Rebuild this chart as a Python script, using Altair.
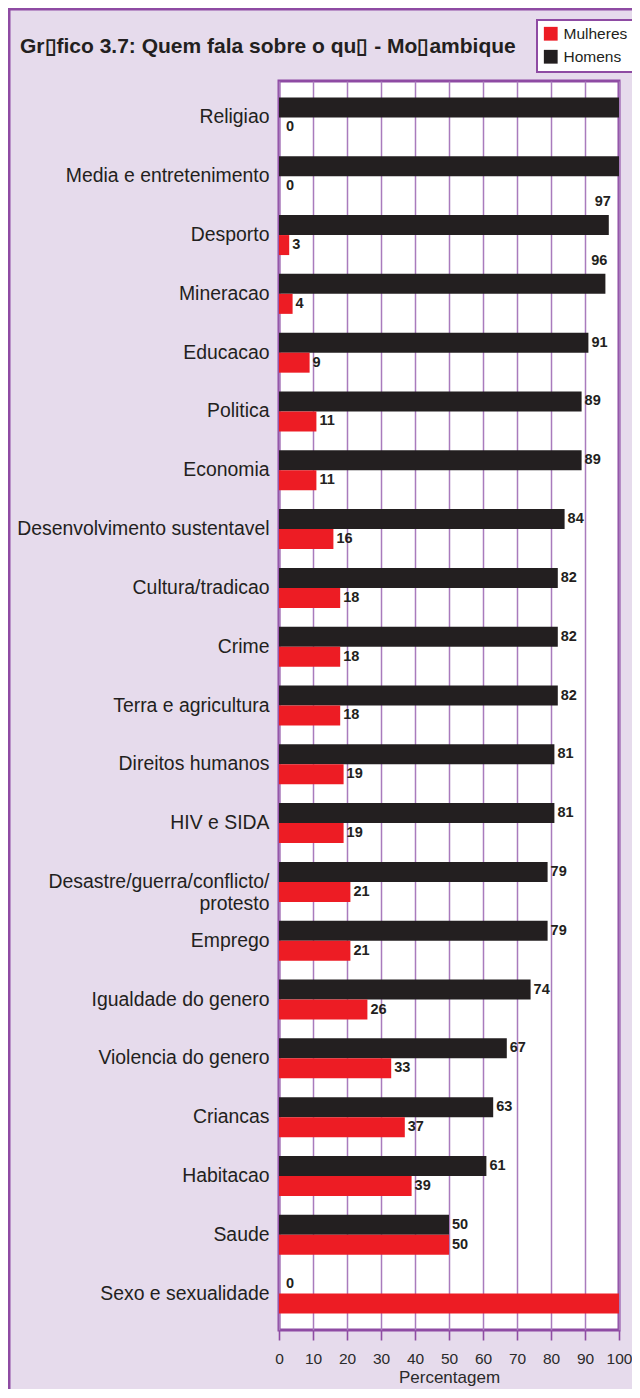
import altair as alt
import pandas as pd

categories = [
    "Religiao", "Media e entretenimento", "Desporto", "Mineracao", "Educacao",
    "Politica", "Economia", "Desenvolvimento sustentavel", "Cultura/tradicao",
    "Crime", "Terra e agricultura", "Direitos humanos", "HIV e SIDA",
    "Desastre/guerra/conflicto/|protesto", "Emprego", "Igualdade do genero",
    "Violencia do genero", "Criancas", "Habitacao", "Saude", "Sexo e sexualidade",
]
homens = [100, 100, 97, 96, 91, 89, 89, 84, 82, 82, 82, 81, 81, 79, 79, 74, 67, 63, 61, 50, 0]
mulheres = [0, 0, 3, 4, 9, 11, 11, 16, 18, 18, 18, 19, 19, 21, 21, 26, 33, 37, 39, 50, 100]
series = ["Mulheres", "Homens"]
colors = ["#ED1C24", "#231F20"]
ticks = list(range(0, 101, 10))
title_text = "Gr\u25affico 3.7: Quem fala sobre o qu\u25af - Mo\u25afambique"

rows = []
for c, h, m in zip(categories, homens, mulheres):
    rows.append({"cat": c, "serie": "Homens", "val": h})
    rows.append({"cat": c, "serie": "Mulheres", "val": m})
df = pd.DataFrame(rows)

FONT = "Liberation Sans"
PURPLE = "#8E4BA3"
GRIDC = "#A97BBD"
BG = "#E6DBEC"

y_enc = alt.Y(
    "cat:N", sort=categories,
    scale=alt.Scale(paddingInner=0.32, paddingOuter=0.28),
    axis=alt.Axis(
        title=None, ticks=False, domain=False,
        labelExpr="split(datum.label, '|')",
        labelFont=FONT, labelFontSize=19.4, labelColor="#231F20",
        labelPadding=10, labelLineHeight=22, labelLimit=300,
    ),
)
yoff = alt.YOffset("serie:N", sort=["Homens", "Mulheres"],
                   scale=alt.Scale(paddingInner=0, paddingOuter=0))
x_enc = alt.X(
    "val:Q",
    scale=alt.Scale(domain=[0, 100], nice=False),
    axis=alt.Axis(
        values=ticks, title="Percentagem", grid=True, gridColor=GRIDC,
        gridWidth=1.5, domain=False, tickColor=PURPLE, tickSize=10, tickWidth=1.6,
        labelFont=FONT, labelFontSize=15.5, labelColor="#2A2A2A", labelPadding=11,
        labelOverlap=False, labelFlush=False, labelBound=False,
        titleFont=FONT, titleFontSize=17, titleFontWeight="normal",
        titleColor="#2A2A2A", titlePadding=3,
    ),
)

base = alt.Chart(df).encode(y=y_enc, yOffset=yoff, x=x_enc)

bars = base.mark_bar(size=20).encode(
    color=alt.Color(
        "serie:N",
        scale=alt.Scale(domain=series, range=colors),
        legend=alt.Legend(
            title=None, orient="none", legendX=258, legendY=-61,
            fillColor="white", strokeColor=PURPLE,
            padding=6, symbolType="square", symbolSize=190,
            symbolStrokeWidth=0, labelFont=FONT, labelFontSize=15.5,
            labelColor="#231F20", rowPadding=6, labelOffset=5,
        ),
    )
)

lab_style = dict(font=FONT, fontSize=14.5, fontWeight="bold", color="#231F20", baseline="middle")
lab_norm = base.transform_filter("datum.val > 0 && datum.val < 95").mark_text(
    align="left", dx=3, **lab_style).encode(text="val:Q")
lab_high = base.transform_filter("datum.val >= 95 && datum.val < 100").mark_text(
    align="right", dx=2, dy=-23, **lab_style).encode(text="val:Q")
lab_zero = base.transform_filter("datum.val == 0").mark_text(
    align="left", dx=7, **lab_style).encode(text="val:Q")

one = pd.DataFrame({"t": [title_text]})
title = alt.Chart(one).mark_text(
    align="left", baseline="middle", font=FONT, fontSize=21, fontWeight="bold",
    color="#231F20",
).encode(text="t:N", x=alt.value(-259), y=alt.value(-34))

frame = alt.Chart(one).mark_rect(
    fillOpacity=0, stroke=PURPLE, strokeWidth=3,
).encode(x=alt.value(-270), x2=alt.value(400), y=alt.value(-72), y2=alt.value(1400))

chart = alt.layer(frame, bars, lab_norm, lab_high, lab_zero, title).properties(
    width=340, height=1249,
    padding={"left": 271, "top": 73, "right": 13, "bottom": 59},
    autosize=alt.AutoSizeParams(type="none"),
).configure(background=BG).configure_view(
    fill="white", stroke=PURPLE, strokeWidth=3,
).configure_legend(strokeWidth=2)

chart.save("out.html", embed_options={"renderer": "svg", "actions": False})
